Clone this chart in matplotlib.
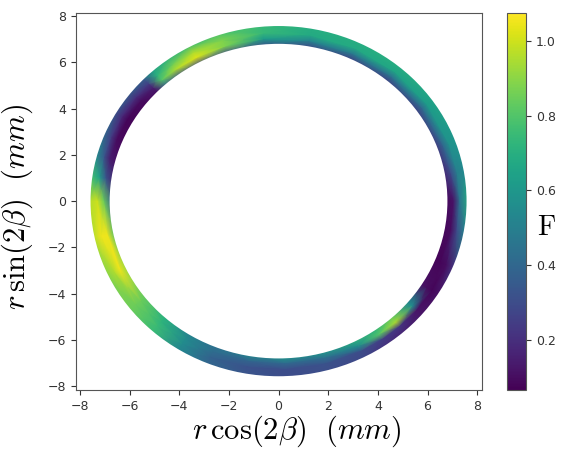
import numpy as np
import matplotlib
matplotlib.use('Agg')
import matplotlib.pyplot as plt
from matplotlib.patches import Circle, Wedge

plt.rcParams['mathtext.fontset'] = 'cm'

# angle around the ring (deg) and the four radial sample positions (mm)
angle_deg = [0, 10, 20, 35, 50, 65, 80, 95, 108, 118, 126, 132, 136, 142,
             150, 158, 165, 172, 180, 192, 205, 218, 228, 238, 248, 260,
             272, 285, 297, 305, 312, 320, 328, 338, 350, 360]
radius_mm = [6.7, 7.05, 7.3, 7.66]
ring_in, ring_out = 6.8, 7.57

# F at inner, mid-inner, mid-outer, outer radius for each angle
F_inner = [0.08, 0.15, 0.20, 0.22, 0.22, 0.22, 0.25, 0.28, 0.30, 0.30, 0.32,
           0.35, 0.10, 0.08, 0.08, 0.08, 0.10, 0.15, 0.38, 0.75, 0.90, 0.82,
           0.70, 0.50, 0.45, 0.55, 0.62, 0.62, 0.72, 0.70, 0.80, 0.55, 0.12,
           0.08, 0.08, 0.08]
F_mid1 = [0.12, 0.30, 0.40, 0.42, 0.45, 0.48, 0.52, 0.62, 0.88, 1.02, 0.95,
          0.80, 0.15, 0.10, 0.08, 0.10, 0.15, 0.35, 0.85, 1.05, 1.05, 0.85,
          0.72, 0.55, 0.42, 0.38, 0.40, 0.42, 0.55, 0.80, 0.95, 0.55, 0.10,
          0.08, 0.10, 0.12]
F_mid2 = [0.45, 0.50, 0.58, 0.62, 0.66, 0.68, 0.68, 0.74, 0.88, 0.95, 0.85,
          0.72, 0.25, 0.20, 0.18, 0.25, 0.35, 0.65, 1.00, 1.05, 0.95, 0.85,
          0.75, 0.55, 0.38, 0.32, 0.30, 0.32, 0.30, 0.25, 0.22, 0.12, 0.08,
          0.10, 0.30, 0.45]
F_outer = [0.70, 0.55, 0.60, 0.66, 0.70, 0.70, 0.70, 0.74, 0.78, 0.75, 0.70,
           0.62, 0.40, 0.38, 0.35, 0.45, 0.60, 0.78, 0.95, 0.95, 0.88, 0.85,
           0.75, 0.52, 0.40, 0.33, 0.30, 0.30, 0.28, 0.20, 0.15, 0.12, 0.12,
           0.25, 0.55, 0.70]

xticks = [-8, -6, -4, -2, 0, 2, 4, 6, 8]
cbar_ticks = [0.2, 0.4, 0.6, 0.8, 1.0]
F_min, F_max = 0.065, 1.075

th = np.deg2rad(angle_deg)
rr, tt = np.meshgrid(radius_mm, th, indexing='ij')
X = rr * np.cos(tt)
Y = rr * np.sin(tt)
C = np.array([F_inner, F_mid1, F_mid2, F_outer])

fig = plt.figure(figsize=(5.62, 4.51), dpi=100)
ax = fig.add_axes([0.135, 0.135, 0.723, 0.836])
cax = fig.add_axes([0.902, 0.135, 0.034, 0.836])

mesh = ax.pcolormesh(X, Y, C, cmap='viridis', shading='gouraud',
                     vmin=F_min, vmax=F_max, zorder=1)

# white masks round off the faceted mesh edges
ax.add_patch(Circle((0, 0), ring_in, facecolor='white', edgecolor='none',
                    zorder=2))
ax.add_patch(Wedge((0, 0), 8.0, 0, 360, width=8.0 - ring_out,
                   facecolor='white', edgecolor='none', zorder=2))

ax.set_xlim(-8.16, 8.2)
ax.set_ylim(-8.17, 8.13)
ax.set_xticks(xticks)
ax.set_yticks(xticks)
ax.tick_params(labelsize=9, colors='#333333')
for s in ax.spines.values():
    s.set_edgecolor('#555555')
    s.set_zorder(3)
ax.set_xlabel(r'$r\,\cos(2\beta)\ \ (mm)$', fontsize=22)
ax.set_ylabel(r'$r\,\sin(2\beta)\ \ (mm)$', fontsize=22)
ax.xaxis.set_label_coords(0.545, -0.062)
ax.yaxis.set_label_coords(-0.1, 0.487)

cb = fig.colorbar(mesh, cax=cax, ticks=cbar_ticks)
cb.ax.tick_params(labelsize=9, colors='#333333')
cb.outline.set_edgecolor('#555555')
fig.text(0.973, 0.497, r'$\mathrm{F}$', fontsize=20, ha='center', va='center')

fig.savefig('out.png', dpi=100)
